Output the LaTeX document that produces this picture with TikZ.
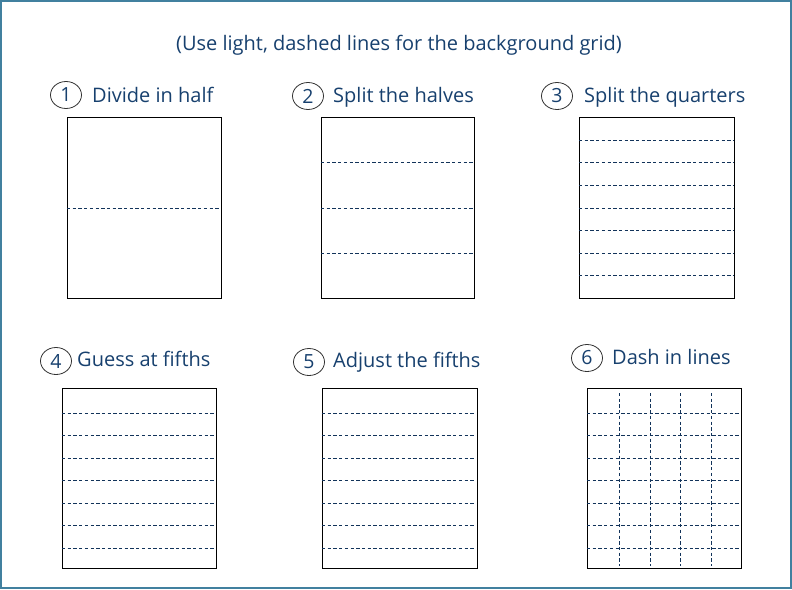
\documentclass[tikz,border=0pt]{standalone}
\usepackage{fontspec}
\setmainfont{Open Sans}
\usetikzlibrary{shapes.geometric}
\definecolor{frame}{HTML}{41809F}
\definecolor{ink}{HTML}{17406E}
\definecolor{dash}{HTML}{12335A}
\tikzset{
  sheet/.style={draw=black, line width=1pt},
  guide/.style={draw=dash, line width=1pt, dash pattern=on 3.3pt off 2.4pt},
  numcircle/.style={ellipse, draw=black!80, line width=0.8pt, minimum width=31pt, minimum height=27pt, inner sep=0pt, text=ink, font=\fontsize{19.5}{19.5}\selectfont},
  lbl/.style={anchor=base west, text=ink, inner sep=0pt, font=\fontsize{20}{20}\selectfont},
}
\begin{document}
\begin{tikzpicture}[x=1pt,y=-1pt]
\useasboundingbox (0,0) rectangle (792,589);
\draw[frame, line width=2pt] (1,1) rectangle (791,588);
\node[anchor=base, text=ink, inner sep=0pt, font=\fontsize{20}{20}\selectfont] (title) at (399,50) {(Use light, dashed lines for the background grid)};

% labels
\node[numcircle] (c1) at (66,95) {1};
\node[lbl] (t1) at (92,102) {Divide in half};
\node[numcircle] (c2) at (308,96) {2};
\node[lbl] (t2) at (333,102) {Split the halves};
\node[numcircle] (c3) at (557,96) {3};
\node[lbl] (t3) at (584,102) {Split the quarters};
\node[numcircle] (c4) at (56,361) {4};
\node[lbl] (t4) at (77,366) {Guess at fifths};
\node[numcircle] (c5) at (309,362) {5};
\node[lbl] (t5) at (333,367) {Adjust the fifths};
\node[numcircle] (c6) at (587,358) {6};
\node[lbl] (t6) at (612,364) {Dash in lines};

% panel 1
\draw[sheet] (67,117) rectangle (221,298);
\draw[guide] (67,208) -- (219,208);
% panel 2
\draw[sheet] (321,117) rectangle (474,298);
\foreach \y in {162,208,253} \draw[guide] (321,\y) -- (473,\y);
% panel 3
\draw[sheet] (579,117) rectangle (734,298);
\foreach \y in {140,162,185,208,230,253,275} \draw[guide] (579,\y) -- (733,\y);
% panel 4
\draw[sheet] (62,388) rectangle (216,568);
\foreach \y in {413,435,458,480,503,525,548} \draw[guide] (62,\y) -- (214,\y);
% panel 5
\draw[sheet] (322,388) rectangle (477,568);
\foreach \y in {413,435,458,480,503,525,548} \draw[guide] (322,\y) -- (475,\y);
% panel 6
\draw[sheet] (587,388) rectangle (741,568);
\foreach \y in {413,435,458,480,503,525,548} \draw[guide] (587,\y) -- (739,\y);
\foreach \x in {619,650,680,711} \draw[guide] (\x,393) -- (\x,566);
\end{tikzpicture}
\end{document}
